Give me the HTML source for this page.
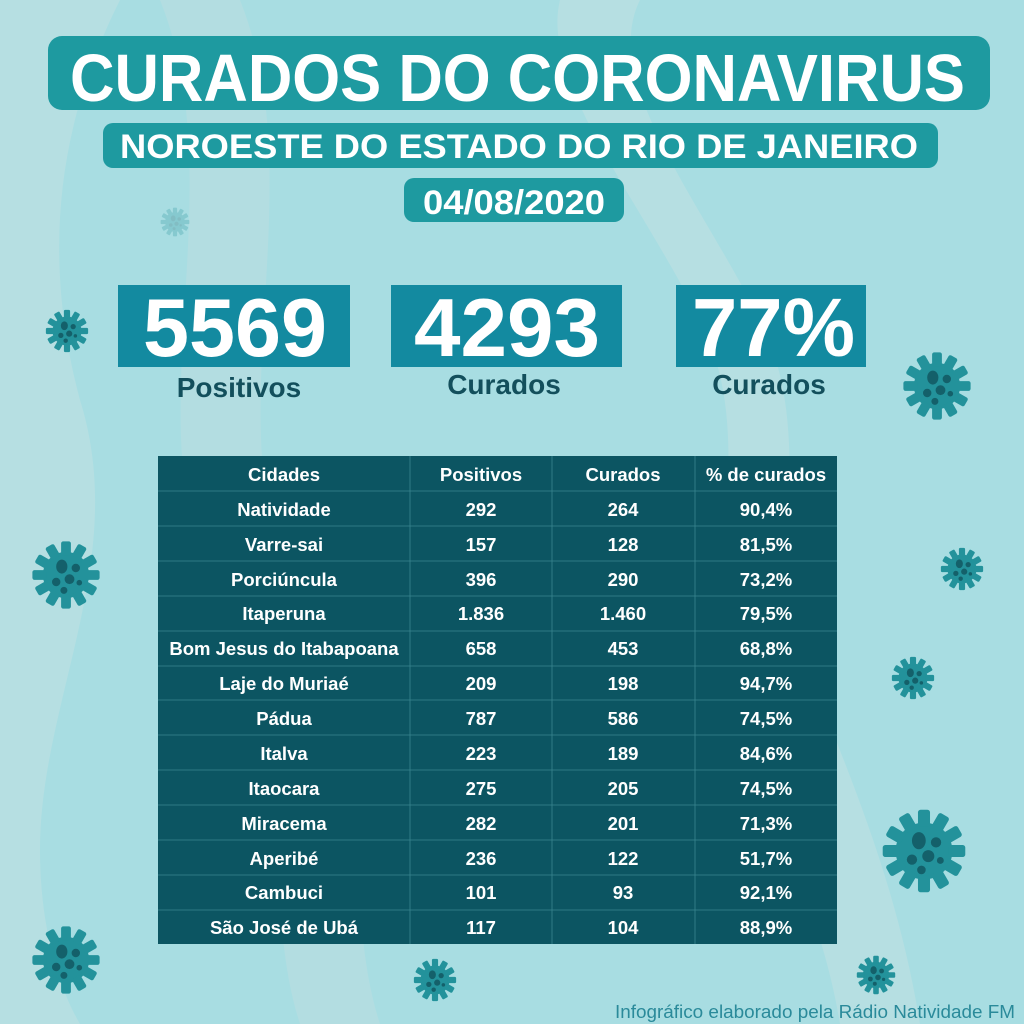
<!DOCTYPE html>
<html><head><meta charset="utf-8"><style>
html,body{margin:0;padding:0;background:#a8dde2;}
svg{display:block;}
text{font-family:"Liberation Sans",Arial,sans-serif;font-weight:bold;}
</style></head><body>
<svg width="1024" height="1024" viewBox="0 0 1024 1024" xmlns="http://www.w3.org/2000/svg">
<defs>
<symbol id="v" viewBox="-50 -50 100 100">
<g fill="#23929b">
<circle r="33"/>
<g id="sp"><rect x="-7" y="-48" width="14" height="20" rx="3"/></g>
<use href="#sp" transform="rotate(30)"/><use href="#sp" transform="rotate(60)"/><use href="#sp" transform="rotate(90)"/>
<use href="#sp" transform="rotate(120)"/><use href="#sp" transform="rotate(150)"/><use href="#sp" transform="rotate(180)"/>
<use href="#sp" transform="rotate(210)"/><use href="#sp" transform="rotate(240)"/><use href="#sp" transform="rotate(270)"/>
<use href="#sp" transform="rotate(300)"/><use href="#sp" transform="rotate(330)"/>
</g>
<g fill="#14606a">
<ellipse cx="-6" cy="-12" rx="8" ry="10"/><circle cx="14" cy="-10" r="6"/><circle cx="5" cy="6" r="7"/>
<circle cx="-14" cy="10" r="6"/><circle cx="-3" cy="22" r="5"/><circle cx="19" cy="11" r="4"/>
</g>
</symbol>
</defs>
<rect width="1024" height="1024" fill="#a8dde2"/>
<path d="M0 0 L120 0 C60 120 40 250 80 400 C130 560 40 700 40 850 C40 930 60 990 80 1024 L0 1024 Z" fill="#b6dfe2"/>
<path d="M560 0 L640 0 C600 80 700 200 760 320 C820 440 760 560 820 700 C860 800 900 900 920 1024 L840 1024 C820 900 760 800 740 700 C700 560 760 440 700 320 C640 200 540 80 560 0 Z" fill="#b6dfe2"/>
<path d="M160 0 C240 200 120 450 230 620 C300 760 260 900 300 1024 L380 1024 C340 900 380 760 310 620 C200 450 320 200 240 0 Z" fill="#b3dde1"/>
<use href="#v" x="45" y="309" width="44" height="44"/>
<use href="#v" x="902" y="351" width="70" height="70"/>
<use href="#v" x="31" y="540" width="70" height="70"/>
<use href="#v" x="940" y="547" width="44" height="44"/>
<use href="#v" x="891" y="656" width="44" height="44"/>
<use href="#v" x="881" y="808" width="86" height="86"/>
<use href="#v" x="31" y="925" width="70" height="70"/>
<use href="#v" x="413" y="958" width="44" height="44"/>
<use href="#v" x="856" y="955" width="40" height="40"/>
<use href="#v" x="160" y="207" width="30" height="30" opacity="0.25"/>
<rect x="48" y="36" width="942" height="74" rx="14" fill="#1e9aa0"/>
<text x="70" y="101" font-size="67" fill="#fff" textLength="895" lengthAdjust="spacingAndGlyphs">CURADOS DO CORONAVIRUS</text>
<rect x="103" y="123" width="835" height="45" rx="10" fill="#1e9aa0"/>
<text x="120" y="158" font-size="34" fill="#fff" textLength="798" lengthAdjust="spacingAndGlyphs">NOROESTE DO ESTADO DO RIO DE JANEIRO</text>
<rect x="404" y="178" width="220" height="44" rx="10" fill="#1e9aa0"/>
<text x="423" y="214" font-size="34" fill="#fff" textLength="182" lengthAdjust="spacingAndGlyphs">04/08/2020</text>
<rect x="118" y="285" width="232" height="82" fill="#138aa0"/>
<rect x="391" y="285" width="231" height="82" fill="#138aa0"/>
<rect x="676" y="285" width="190" height="82" fill="#138aa0"/>
<text x="143" y="356" font-size="83" fill="#fff" textLength="184" lengthAdjust="spacingAndGlyphs">5569</text>
<text x="414" y="356" font-size="83" fill="#fff" textLength="186" lengthAdjust="spacingAndGlyphs">4293</text>
<text x="692" y="356" font-size="83" fill="#fff" textLength="163" lengthAdjust="spacingAndGlyphs">77%</text>
<g font-size="28" fill="#134f5c" text-anchor="middle">
<text x="239" y="397">Positivos</text>
<text x="504" y="394">Curados</text>
<text x="769" y="394">Curados</text>
</g>
<rect x="158" y="456" width="679" height="488" fill="#0c5562"/>
<g stroke="#3a8690" stroke-width="0.8">
<line x1="410" y1="456" x2="410" y2="944"/><line x1="552" y1="456" x2="552" y2="944"/><line x1="695" y1="456" x2="695" y2="944"/>
<line x1="158" y1="491" x2="837" y2="491"/><line x1="158" y1="526" x2="837" y2="526"/><line x1="158" y1="561" x2="837" y2="561"/>
<line x1="158" y1="596" x2="837" y2="596"/><line x1="158" y1="631" x2="837" y2="631"/><line x1="158" y1="666" x2="837" y2="666"/>
<line x1="158" y1="700" x2="837" y2="700"/><line x1="158" y1="735" x2="837" y2="735"/><line x1="158" y1="770" x2="837" y2="770"/>
<line x1="158" y1="805" x2="837" y2="805"/><line x1="158" y1="840" x2="837" y2="840"/><line x1="158" y1="875" x2="837" y2="875"/>
<line x1="158" y1="910" x2="837" y2="910"/>
</g>
<g font-size="18.5" fill="#fff" text-anchor="middle">
<text x="284" y="481">Cidades</text><text x="481" y="481">Positivos</text><text x="623" y="481">Curados</text><text x="766" y="481">% de curados</text>
<text x="284" y="516">Natividade</text><text x="481" y="516">292</text><text x="623" y="516">264</text><text x="766" y="516">90,4%</text>
<text x="284" y="551">Varre-sai</text><text x="481" y="551">157</text><text x="623" y="551">128</text><text x="766" y="551">81,5%</text>
<text x="284" y="586">Porciúncula</text><text x="481" y="586">396</text><text x="623" y="586">290</text><text x="766" y="586">73,2%</text>
<text x="284" y="620">Itaperuna</text><text x="481" y="620">1.836</text><text x="623" y="620">1.460</text><text x="766" y="620">79,5%</text>
<text x="284" y="655">Bom Jesus do Itabapoana</text><text x="481" y="655">658</text><text x="623" y="655">453</text><text x="766" y="655">68,8%</text>
<text x="284" y="690">Laje do Muriaé</text><text x="481" y="690">209</text><text x="623" y="690">198</text><text x="766" y="690">94,7%</text>
<text x="284" y="725">Pádua</text><text x="481" y="725">787</text><text x="623" y="725">586</text><text x="766" y="725">74,5%</text>
<text x="284" y="760">Italva</text><text x="481" y="760">223</text><text x="623" y="760">189</text><text x="766" y="760">84,6%</text>
<text x="284" y="795">Itaocara</text><text x="481" y="795">275</text><text x="623" y="795">205</text><text x="766" y="795">74,5%</text>
<text x="284" y="830">Miracema</text><text x="481" y="830">282</text><text x="623" y="830">201</text><text x="766" y="830">71,3%</text>
<text x="284" y="865">Aperibé</text><text x="481" y="865">236</text><text x="623" y="865">122</text><text x="766" y="865">51,7%</text>
<text x="284" y="899">Cambuci</text><text x="481" y="899">101</text><text x="623" y="899">93</text><text x="766" y="899">92,1%</text>
<text x="284" y="934">São José de Ubá</text><text x="481" y="934">117</text><text x="623" y="934">104</text><text x="766" y="934">88,9%</text>
</g>
<text x="615" y="1018" font-size="18" style="font-weight:normal" fill="#2a8a9a" textLength="400" lengthAdjust="spacingAndGlyphs">Infográfico elaborado pela Rádio Natividade FM</text>
</svg>
</body></html>
